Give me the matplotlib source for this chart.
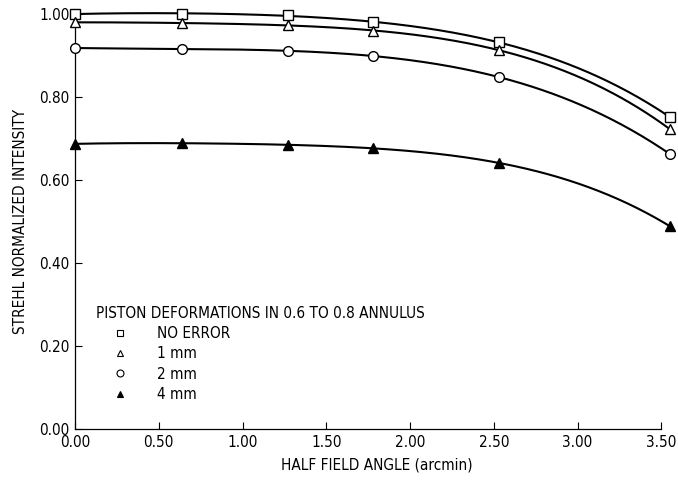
import numpy as np
import matplotlib
matplotlib.use("Agg")
import matplotlib.pyplot as plt
from matplotlib.lines import Line2D

# field points (arcmin)
half_field = [0.0, 0.64, 1.27, 1.78, 2.53, 3.55]

no_error = [1.000, 1.001, 0.997, 0.980, 0.932, 0.752]
err_1mm = [0.980, 0.978, 0.973, 0.960, 0.913, 0.723]
err_2mm = [0.918, 0.916, 0.911, 0.899, 0.848, 0.663]
err_4mm = [0.687, 0.689, 0.684, 0.677, 0.641, 0.489]

labels = ["NO ERROR", "1 mm", "2 mm", "4 mm"]
legend_title = "PISTON DEFORMATIONS IN 0.6 TO 0.8 ANNULUS"
x_ticks = [0.0, 0.5, 1.0, 1.5, 2.0, 2.5, 3.0, 3.5]
y_ticks = [0.0, 0.2, 0.4, 0.6, 0.8, 1.0]


def main():
    plt.rcParams.update({
        "font.family": "DejaVu Sans",
        "font.stretch": "condensed",
        "font.size": 11,
    })

    fig = plt.figure(figsize=(6.78, 4.80), dpi=100)
    ax = fig.add_axes([75 / 678, 51 / 480, 603 / 678, 415 / 480])

    series = [no_error, err_1mm, err_2mm, err_4mm]
    markers = ["s", "^", "o", "^"]
    faces = ["white", "white", "white", "black"]
    sizes = [6.5, 6.5, 7, 6.5]

    x = np.array(half_field)
    xs = np.linspace(x.min(), x.max(), 300)
    handles = []
    for vals, m, fc, ms, lab in zip(series, markers, faces, sizes, labels):
        # smooth least-squares curve through the read points
        coef = np.polyfit(x, vals, 4)
        ax.plot(xs, np.polyval(coef, xs), color="black", lw=1.5,
                clip_on=False, zorder=2)
        ax.plot(x, vals, linestyle="none", marker=m, ms=ms, mfc=fc,
                mec="black", mew=1.0, clip_on=False, zorder=3)
        handles.append(Line2D([], [], linestyle="none", marker=m,
                              ms=5, mfc=fc, mec="black", mew=0.8,
                              label=lab))

    ax.set_xlim(0, 3.6)
    ax.set_ylim(0, 1.0)
    ax.set_xticks(x_ticks)
    ax.set_xticklabels([f"{v:.2f}" for v in x_ticks])
    ax.set_yticks(y_ticks)
    ax.set_yticklabels([f"{v:.2f}" for v in y_ticks])
    ax.tick_params(direction="in", length=5, width=0.8, pad=4)

    for s in ["top", "right"]:
        ax.spines[s].set_visible(False)
    ax.spines["bottom"].set_bounds(0, 3.5)
    ax.spines["left"].set_linewidth(0.9)
    ax.spines["bottom"].set_linewidth(0.9)

    ax.set_xlabel("HALF FIELD ANGLE (arcmin)", labelpad=6)
    ax.set_ylabel("STREHL NORMALIZED INTENSITY", labelpad=8)

    leg = ax.legend(handles=handles, title=legend_title,
                    loc="upper left", bbox_to_anchor=(0.035, 0.297),
                    frameon=False, handlelength=3.1, handletextpad=0.9,
                    labelspacing=0.35, borderaxespad=0, borderpad=0,
                    title_fontsize=11, fontsize=11)
    leg._legend_box.align = "left"

    fig.savefig("out.png", dpi=100)
    plt.close(fig)


if __name__ == "__main__":
    main()
